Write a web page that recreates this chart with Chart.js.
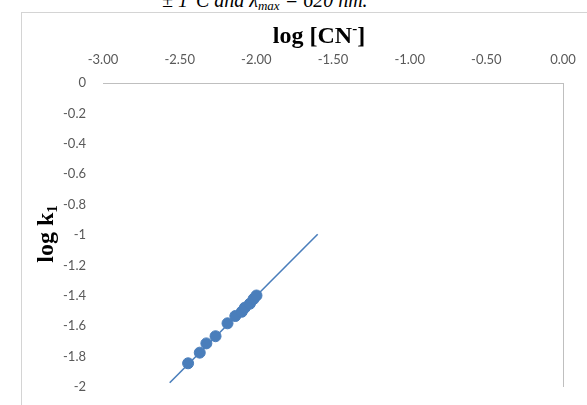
<!DOCTYPE html>
<html>
<head>
<meta charset="utf-8">
<script src="https://cdn.jsdelivr.net/npm/chart.js@4"></script>
<style>
  html, body { margin: 0; padding: 0; background: #fff; overflow: hidden; }
  body { width: 587px; height: 405px; position: relative; }
  .caption {
    position: absolute; left: 162px; top: -10px;
    font: italic 20px "Liberation Serif", serif; line-height: 20px;
    white-space: nowrap; color: #000;
  }
  .caption sub { font-size: 13px; vertical-align: -3px; }
  .box {
    position: absolute; left: 21px; top: 12px;
    width: 600px; height: 430px;
    border-left: 1px solid #d4d4d4; border-top: 1px solid #d4d4d4;
  }
  .wrap { position: absolute; left: 0; top: 0; width: 565px; height: 400px; }
</style>
</head>
<body>
<div class="caption">± 1°C and λ<sub>max</sub> = 620 nm.</div>
<div class="box">
  <div class="wrap"><canvas id="chart"></canvas></div>
</div>
<script>
// measured points: log [CN-] vs log k1
const logCN = [-2.445, -2.369, -2.326, -2.266, -2.188, -2.137, -2.095, -2.075, -2.042, -2.018, -1.999];
const logK1 = [-1.844, -1.774, -1.713, -1.666, -1.581, -1.533, -1.505, -1.478, -1.452, -1.421, -1.398];

// linear trendline end points
const fitX = [-2.565, -1.600];
const fitY = [-1.972, -0.995];

// axis ticks
const xTickValues = [-3, -2.5, -2, -1.5, -1, -0.5, 0];
const xTickLabels = ['-3.00', '-2.50', '-2.00', '-1.50', '-1.00', '-0.50', '0.00'];
const yTickValues = [0, -0.2, -0.4, -0.6, -0.8, -1, -1.2, -1.4, -1.6, -1.8, -2];
const yTickLabels = ['0', '-0.2', '-0.4', '-0.6', '-0.8', '-1', '-1.2', '-1.4', '-1.6', '-1.8', '-2'];

const blue = '#4a7ebb';
const tickFont = { family: 'Lato', size: 13 };

// axis lines crossing at (0, 0) and the two axis titles
const axesPlugin = {
    id: 'axesAndTitles',
    afterDraw(chart) {
        const ctx = chart.ctx;
        const area = chart.chartArea;
        const xs = chart.scales.x, ys = chart.scales.y;
        const x0 = Math.round(xs.getPixelForValue(0)) + 0.5;
        const y0 = Math.round(ys.getPixelForValue(0)) + 0.5;
        ctx.save();
        ctx.strokeStyle = '#bfbfbf';
        ctx.lineWidth = 1;
        ctx.beginPath();
        ctx.moveTo(area.left, y0);
        ctx.lineTo(area.right, y0);
        ctx.moveTo(x0, area.top);
        ctx.lineTo(x0, area.bottom);
        ctx.stroke();

        // x title: log [CN-]
        ctx.fillStyle = '#000';
        ctx.textBaseline = 'alphabetic';
        ctx.textAlign = 'left';
        const big = 'bold 24px "Liberation Serif"';
        const small = 'bold 15px "Liberation Serif"';
        ctx.font = big;
        const w1 = ctx.measureText('log [CN').width;
        const w3 = ctx.measureText(']').width;
        ctx.font = small;
        const w2 = ctx.measureText('-').width;
        const cx = 297, by = 30;
        let x = cx - (w1 + w2 + w3) / 2;
        ctx.font = big;
        ctx.fillText('log [CN', x, by);
        x += w1;
        ctx.font = small;
        ctx.fillText('-', x, by - 10);
        x += w2;
        ctx.font = big;
        ctx.fillText(']', x, by);

        // y title: log k1
        ctx.translate(31, 221);
        ctx.rotate(-Math.PI / 2);
        ctx.font = big;
        const v1 = ctx.measureText('log k').width;
        ctx.font = small;
        const v2 = ctx.measureText('1').width;
        let t = -(v1 + v2) / 2;
        ctx.font = big;
        ctx.fillText('log k', t, 0);
        ctx.font = small;
        ctx.fillText('1', t + v1, 4);
        ctx.restore();
    }
};

new Chart(document.getElementById('chart'), {
    type: 'scatter',
    data: {
        datasets: [{
            label: 'log k1',
            data: logCN.map((v, i) => ({ x: v, y: logK1[i] })),
            backgroundColor: blue,
            borderColor: blue,
            pointRadius: 5.5,
            pointHoverRadius: 5.5,
            order: 0
        }, {
            label: 'trend',
            type: 'line',
            data: fitX.map((v, i) => ({ x: v, y: fitY[i] })),
            borderColor: blue,
            borderWidth: 1.6,
            pointRadius: 0,
            fill: false,
            order: 1
        }]
    },
    options: {
        responsive: true,
        maintainAspectRatio: false,
        animation: false,
        layout: { padding: { left: 0, right: 24, top: 0, bottom: 26 } },
        plugins: {
            legend: { display: false },
            tooltip: { enabled: false }
        },
        scales: {
            x: {
                type: 'linear',
                position: 'top',
                min: -3,
                max: 0,
                grid: { display: false, drawTicks: false },
                border: { display: false },
                afterBuildTicks: scale => { scale.ticks = xTickValues.map(v => ({ value: v })); },
                afterFit: scale => {
                    scale.height = 70;
                    scale.paddingLeft = 0;
                    scale.paddingRight = 0;
                },
                ticks: {
                    padding: 15,
                    color: '#595959',
                    font: tickFont,
                    maxRotation: 0,
                    callback: (v, i) => xTickLabels[i]
                }
            },
            y: {
                type: 'linear',
                min: -2,
                max: 0,
                grid: { display: false, drawTicks: false },
                border: { display: false },
                afterBuildTicks: scale => { scale.ticks = yTickValues.map(v => ({ value: v })); },
                afterFit: scale => {
                    scale.width = 81;
                    scale.paddingTop = 0;
                    scale.paddingBottom = 0;
                },
                ticks: {
                    padding: 17,
                    color: '#595959',
                    font: tickFont,
                    callback: (v, i) => yTickLabels[i]
                }
            }
        }
    },
    plugins: [axesPlugin]
});
</script>
</body>
</html>
